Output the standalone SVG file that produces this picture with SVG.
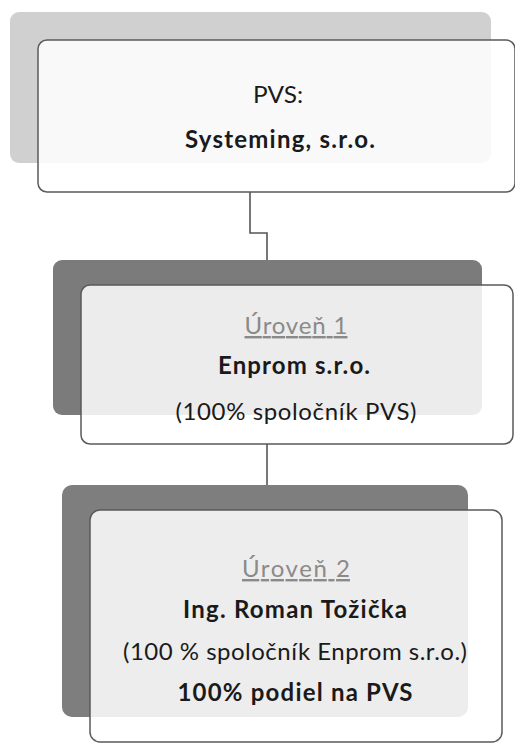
<svg xmlns="http://www.w3.org/2000/svg" width="515" height="744" viewBox="0 0 515 744">
<style>
.front{fill:#ffffff;fill-opacity:0.86;stroke:#5a5a5a;stroke-width:1.5}
.conn{fill:none;stroke:#555;stroke-width:1.6}
text{font-family:"Lato","Open Sans",sans-serif;text-anchor:middle;fill:#1a1a1a;font-size:24px}
.b{font-weight:bold}
.lvl{fill:#8a8a8a;text-decoration:underline}
</style>
<rect width="515" height="744" fill="#ffffff"/>
<g id="connectors">
<path class="conn" d="M250,192 V233 H267 V260"/>
<path class="conn" d="M267,444 V485"/>
</g>
<g id="node-pvs">
<rect x="10" y="12" width="481" height="151" rx="9" fill="#d0d0d0"/>
<rect class="front" x="38" y="40" width="477" height="152" rx="9"/>
<text x="278" y="103" textLength="50" lengthAdjust="spacingAndGlyphs">PVS:</text>
<text class="b" x="280" y="148" textLength="190" lengthAdjust="spacing">Systeming, s.r.o.</text>
</g>
<g id="node-level1">
<rect x="53" y="260" width="429" height="155" rx="9" fill="#7b7b7b"/>
<rect class="front" x="81" y="285" width="432" height="159" rx="9"/>
<text class="lvl" x="296" y="334" textLength="103" lengthAdjust="spacing">Úroveň 1</text>
<text class="b" x="294" y="374" textLength="152" lengthAdjust="spacing">Enprom s.r.o.</text>
<text x="296" y="420" textLength="241" lengthAdjust="spacing">(100% spoločník PVS)</text>
</g>
<g id="node-level2">
<rect x="62" y="485" width="406" height="232" rx="10" fill="#7e7e7e"/>
<rect class="front" x="90" y="510" width="412" height="232" rx="10"/>
<text class="lvl" x="296" y="577" textLength="108" lengthAdjust="spacing">Úroveň 2</text>
<text class="b" x="295" y="618" textLength="224" lengthAdjust="spacing">Ing. Roman Tožička</text>
<text x="295" y="660" textLength="344" lengthAdjust="spacing">(100 % spoločník Enprom s.r.o.)</text>
<text class="b" x="295" y="701" textLength="235" lengthAdjust="spacing">100% podiel na PVS</text>
</g>
</svg>
